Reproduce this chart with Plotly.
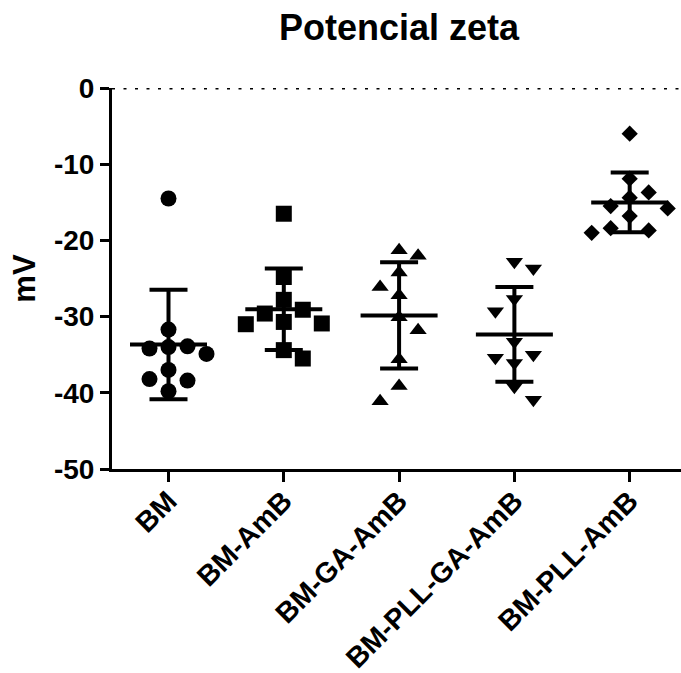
import numpy as np
import plotly.graph_objects as go

# ---- data (mV) ----
categories = ["BM", "BM-AmB", "BM-GA-AmB", "BM-PLL-GA-AmB", "BM-PLL-AmB"]

bm = [-14.5, -31.7, -34.0, -34.2, -34.9, -33.9, -37.0, -38.2, -38.4, -39.8]
bm_amb = [-16.5, -24.8, -27.8, -29.6, -29.1, -30.9, -30.7, -31.0, -34.4, -35.5]
bm_ga_amb = [-21.3, -22.0, -24.2, -26.1, -27.2, -30.1, -31.8, -35.6, -39.1, -41.1]
bm_pll_ga_amb = [-22.8, -23.7, -27.7, -29.3, -33.3, -35.0, -35.4, -36.1, -39.2, -40.9]
bm_pll_amb = [-6.0, -11.9, -13.7, -14.4, -15.5, -15.8, -16.8, -18.4, -18.7, -19.0]

groups = [bm, bm_amb, bm_ga_amb, bm_pll_ga_amb, bm_pll_amb]

y_tick_values = [-50, -40, -30, -20, -10, 0]
y_tick_labels = ["-50", "-40", "-30", "-20", "-10", "0"]

# ---- layout constants ----
W, H = 681, 673
M_L, M_R, M_T, M_B = 112, 0, 88, 204
X_RANGE = [-0.49, 4.445]
Y_RANGE = [-50, 0]
FONT = "Liberation Sans, Arial, Helvetica, sans-serif"

symbols = ["circle", "square", "triangle-up", "triangle-down", "diamond"]
sizes = [16, 16, 15, 15, 12.5]

px_per_x = (W - M_L - M_R) / (X_RANGE[1] - X_RANGE[0])
px_per_y = (H - M_T - M_B) / (Y_RANGE[1] - Y_RANGE[0])


def swarm_offsets(values, diameter=17.0, step=19.0):
    """Horizontal offsets (category units) so markers do not overlap."""
    order = np.argsort(values)[::-1]
    placed = []  # (x_px, y_px)
    offsets = np.zeros(len(values))
    for idx in order:
        ypx = values[idx] * px_per_y
        chosen = None
        k = 0
        while chosen is None:
            if k == 0:
                cands = [0.0]
            else:
                left = sum(1 for p in placed if p[0] < 0)
                right = sum(1 for p in placed if p[0] > 0)
                cands = [-k * step, k * step] if right > left else [k * step, -k * step]
            for c in cands:
                if all((c - px) ** 2 + (ypx - py) ** 2 >= diameter ** 2 for px, py in placed):
                    chosen = c
                    break
            k += 1
        placed.append((chosen, ypx))
        offsets[idx] = chosen / px_per_x
    return offsets


fig = go.Figure()

for i, vals in enumerate(groups):
    vals = np.asarray(vals, dtype=float)
    xs = i + swarm_offsets(vals)
    fig.add_trace(go.Scatter(
        x=xs, y=vals, mode="markers",
        marker=dict(symbol=symbols[i], size=sizes[i], color="black", line=dict(width=0)),
        showlegend=False, hoverinfo="y", cliponaxis=False,
    ))

means = [float(np.mean(g)) for g in groups]
sds = [float(np.std(g, ddof=1)) for g in groups]

# mean line with +/- SD whiskers
fig.add_trace(go.Scatter(
    x=list(range(len(categories))), y=means, mode="markers",
    marker=dict(symbol="line-ew", size=55, color="black",
                line=dict(width=4, color="black")),
    error_y=dict(type="data", array=sds, visible=True,
                 thickness=4, width=19, color="black"),
    showlegend=False, hoverinfo="y", cliponaxis=False,
))

# dotted reference line at 0 mV
fig.add_shape(type="line", xref="paper", yref="y", x0=0, x1=1, y0=0, y1=0,
              line=dict(color="black", width=3, dash="3px,8.5px"))

fig.update_layout(
    width=W, height=H,
    margin=dict(l=M_L, r=M_R, t=M_T, b=M_B, pad=0, autoexpand=False),
    paper_bgcolor="white", plot_bgcolor="white",
    font=dict(family=FONT, color="black", size=26, weight=700),
    title=dict(text="Potencial zeta", x=0.586, xref="container", xanchor="center",
               y=1 - 27 / H, yref="container", yanchor="middle",
               font=dict(family=FONT, size=36, color="black", weight=700)),
    xaxis=dict(
        range=X_RANGE, tickmode="array", automargin=False,
        tickvals=list(range(len(categories))), ticktext=categories,
        tickangle=-45, showgrid=False, zeroline=False,
        showline=True, linecolor="black", linewidth=3,
        ticks="outside", ticklen=10, tickwidth=3, tickcolor="black",
        ticklabelstandoff=-9,
        tickfont=dict(family=FONT, size=28.5, color="black", weight=700),
    ),
    yaxis=dict(
        range=Y_RANGE, tickmode="array", automargin=False,
        tickvals=y_tick_values, ticktext=y_tick_labels,
        showgrid=False, zeroline=False,
        showline=True, linecolor="black", linewidth=3,
        ticks="outside", ticklen=9, tickwidth=3, tickcolor="black",
        tickfont=dict(family=FONT, size=28, color="black", weight=700),
        title=dict(text="mV", standoff=10,
                   font=dict(family=FONT, size=31, color="black", weight=700)),
    ),
)

fig.write_html("out.html")
